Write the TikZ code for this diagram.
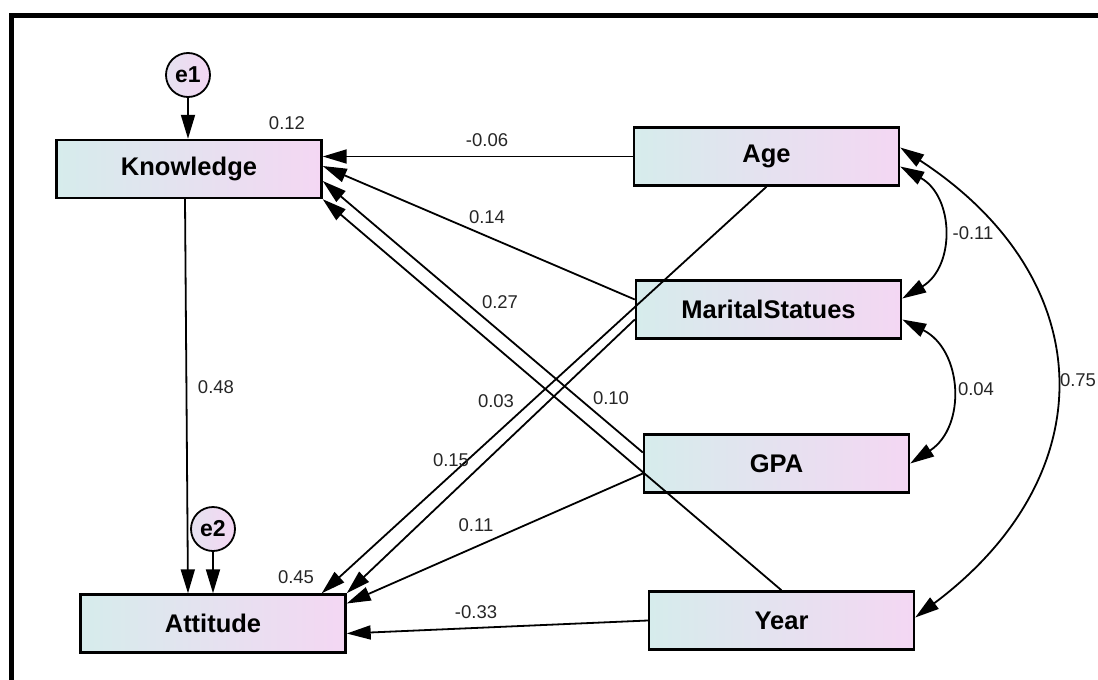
\documentclass[tikz,border=0pt]{standalone}
\usepackage{fontspec}
\setmainfont{Liberation Sans}
\usetikzlibrary{arrows.meta}
\definecolor{boxleft}{RGB}{214,236,236}
\definecolor{boxright}{RGB}{244,215,243}

\begin{document}
\begin{tikzpicture}[x=1pt,y=-1pt,
    var/.style={draw=black, line width=2.4pt, left color=boxleft,
        middle color=boxright!75!boxleft, right color=boxright,
        minimum width=265pt, minimum height=58pt, inner sep=0pt,
        font=\fontsize{25.5}{30}\selectfont\bfseries},
    err/.style={circle, draw=black, line width=1.8pt, left color=boxleft!50!boxright,
        right color=boxright, minimum size=44pt, inner sep=0pt,
        font=\fontsize{23}{27}\selectfont\bfseries},
    est/.style={font=\fontsize{18.5}{22}\selectfont, text=black!85, inner sep=1pt},
    reg/.style={line width=1.8pt, -{Triangle[length=24pt,width=14pt]}},
    cov/.style={line width=1.8pt, {Triangle[length=24pt,width=14pt]}-{Triangle[length=24pt,width=14pt]}}
]

\useasboundingbox (0,0) rectangle (1098,680);
\clip (0,0) rectangle (1098,680);

\draw[line width=5pt] (11.5,700) |- (1120,15.5);

\node[var] (know) at (189,169)   {Knowledge};
\node[var] (att)  at (213,623.5) {Attitude};
\node[var] (age)  at (766.5,156.5) {Age};
\node[var] (mar)  at (768.5,309.5) {MaritalStatues};
\node[var] (gpa)  at (776.5,463.5) {GPA};
\node[var] (year) at (781.5,620.5) {Year};

\node[err] (e1) at (188,75)  {e1};
\node[err] (e2) at (213,529) {e2};

\draw[reg] (e1) -- (e1 |- know.north);
\draw[reg] (e2) -- (att.north);
\draw[reg] ([xshift=-4pt]know.south) -- ([xshift=-25pt]att.north);

\draw[reg] (age.west) -- (age.west -| know.east);
\draw[reg] ([yshift=10pt]mar.west) -- ([yshift=3pt]know.east);
\draw[reg] ([yshift=11pt]gpa.west) -- ([yshift=-12pt]know.east);
\draw[reg] (year.north) -- (know.south east);

\draw[reg] (age.south) -- ([xshift=-25pt]att.north east);
\draw[reg] ([yshift=-10pt]mar.west) -- (att.north east);
\draw[reg] ([yshift=-10pt]gpa.west) -- ([yshift=20pt]att.east);
\draw[reg] (year.west) -- ([yshift=-10pt]att.east);

\draw[cov] ([yshift=-10pt]age.east) to[bend left=60, looseness=1.2] ([yshift=11pt]mar.east);
\draw[cov] ([yshift=-10pt]mar.east) to[bend left=60, looseness=1.2] (gpa.east);
\draw[cov] ([yshift=9pt]age.east) to[bend left=55, looseness=1.3] ([yshift=3pt]year.east);

\foreach \x/\y/\v [count=\i] in {287/123/0.12, 487/140/-0.06, 487/217/0.14, 500/302/0.27,
        216/387/0.48, 496/401/0.03, 611/398/0.10, 451/460/0.15, 476/525/0.11,
        296/577/0.45, 476/612/-0.33, 973/233/-0.11, 976/389/0.04, 1078/380/0.75}
    \node[est] (w\i) at (\x,\y) {\v};

\end{tikzpicture}
\end{document}
